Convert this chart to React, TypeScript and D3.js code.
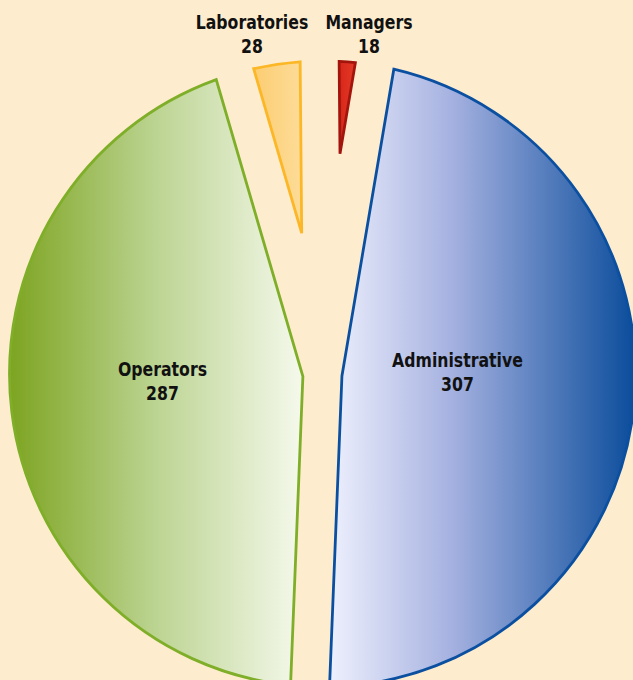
import React from "react";
import * as d3 from "d3";

const categories = ["Administrative", "Operators", "Laboratories", "Managers"];
const values = [307, 287, 28, 18];

const W = 633;
const H = 680;
const CX = 322.5;
const CY = 374;
const R = 313;
const HALF_GAP = 19.5;
const START_DEG = 9.6;

const fills = [
  { id: "gAdmin", stops: [["0%", "#eef0fd"], ["40%", "#a5b1e0"], ["100%", "#0a4c9b"]], stroke: "#0b50a0" },
  { id: "gOper", stops: [["0%", "#7da421"], ["50%", "#bcd492"], ["100%", "#f5f9ec"]], stroke: "#7fae28" },
  { id: "gLab", stops: [["0%", "#fccd72"], ["100%", "#fddc98"]], stroke: "#fcb726" },
  { id: "gMgr", stops: [["0%", "#d8261a"], ["100%", "#e33a26"]], stroke: "#a3150c" },
];

const labelPos: [number, number][] = [
  [457.5, 367],
  [162.5, 376],
  [252, 29],
  [369, 29],
];

function slicePath(a0: number, a1: number, h: number, r: number): string {
  const u = (a: number): [number, number] => [Math.sin(a), -Math.cos(a)];
  const u0 = u(a0);
  const n0: [number, number] = [Math.cos(a0), Math.sin(a0)];
  const L = Math.sqrt(r * r - h * h);
  const p0: [number, number] = [h * n0[0] + L * u0[0], h * n0[1] + L * u0[1]];
  const d = h / Math.sin((a1 - a0) / 2);
  const bis = u((a0 + a1) / 2);
  const apex: [number, number] = [d * bis[0], d * bis[1]];
  const path = d3.path();
  path.moveTo(apex[0], apex[1]);
  path.lineTo(p0[0], p0[1]);
  const s0 = a0 + Math.asin(h / r) - Math.PI / 2;
  const s1 = a1 - Math.asin(h / r) - Math.PI / 2;
  path.arc(0, 0, r, s0, s1, false);
  path.closePath();
  return path.toString();
}

export default function App() {
  const start = (START_DEG * Math.PI) / 180;
  const pie = d3
    .pie<number>()
    .sort(null)
    .value((v) => v)
    .startAngle(start)
    .endAngle(start + 2 * Math.PI);
  const arcs = pie(values);

  const fontFamily = "'DejaVu Sans Condensed', 'DejaVu Sans', sans-serif";

  return (
    <>
      <style>{`body{margin:0;background:#feecce}`}</style>
      <svg width={W} height={H} style={{ display: "block", background: "#feecce" }}>
        <defs>
          {fills.map((f) => (
            <linearGradient key={f.id} id={f.id} x1="0" y1="0" x2="1" y2="0">
              {f.stops.map(([o, c]) => (
                <stop key={o} offset={o} stopColor={c} />
              ))}
            </linearGradient>
          ))}
        </defs>
        <g transform={`translate(${CX},${CY})`}>
          {arcs.map((a, i) => (
            <path
              key={categories[i]}
              d={slicePath(a.startAngle, a.endAngle, HALF_GAP, R)}
              fill={`url(#${fills[i].id})`}
              stroke={fills[i].stroke}
              strokeWidth={2.8}
              strokeLinejoin="miter"
            />
          ))}
        </g>
        {arcs.map((a, i) => (
          <g
            key={"t" + categories[i]}
            transform={`translate(${labelPos[i][0]},${labelPos[i][1]}) scale(0.92,1)`}
          >
            <text
              textAnchor="middle"
              fontFamily={fontFamily}
              fontWeight="bold"
              fontSize={19}
              fill="#111"
            >
              <tspan x={0}>{categories[i]}</tspan>
              <tspan x={0} dy={24.5}>{String(a.value)}</tspan>
            </text>
          </g>
        ))}
      </svg>
    </>
  );
}
